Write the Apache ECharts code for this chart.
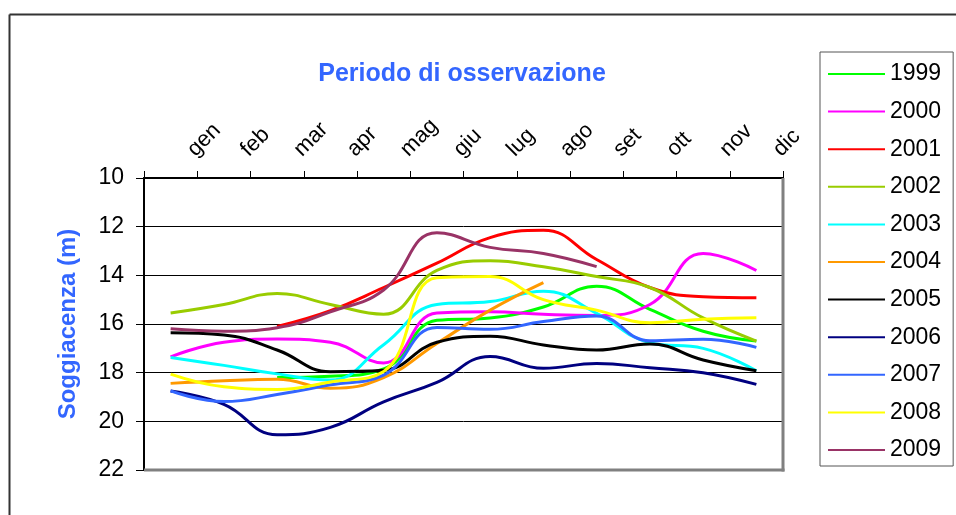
<!DOCTYPE html>
<html>
<head>
<meta charset="utf-8">
<script src="https://cdn.jsdelivr.net/npm/echarts@6/dist/echarts.min.js"></script>
<style>
  html, body { margin: 0; padding: 0; background: #ffffff; }
  #chart { width: 956px; height: 515px; }
</style>
</head>
<body>
<div id="chart"></div>
<script>
// Monthly groundwater depth (m below ground) by year
const months = ['gen', 'feb', 'mar', 'apr', 'mag', 'giu', 'lug', 'ago', 'set', 'ott', 'nov', 'dic'];
const yTicks = { min: 10, max: 22, step: 2 };

const y1999 = [null, null, 18.2, 18.15, 17.85, 15.85, 15.75, 15.3, 14.45, 15.4, 16.3, 16.7];
const y2000 = [17.35, 16.75, 16.62, 16.75, 17.6, 15.55, 15.5, 15.6, 15.65, 15.2, 13.1, 13.8];
const y2001 = [null, null, 16.1, 15.45, 14.5, 13.5, 12.45, 12.15, 13.35, 14.5, 14.88, 14.92];
const y2002 = [15.55, 15.2, 14.75, 15.2, 15.6, 13.8, 13.4, 13.65, 14.05, 14.5, 15.75, 16.7];
const y2003 = [17.38, 17.7, 18.05, 18.3, 16.85, 15.2, 15.08, 14.65, 15.56, 16.77, 17.0, 17.92];
const y2004 = [18.44, 18.33, 18.27, 18.64, 18.2, 16.8, 15.43, 14.3, null, null, null, null];
const y2005 = [16.36, 16.45, 17.07, 17.96, 17.9, 16.75, 16.5, 16.86, 17.07, 16.82, 17.48, 17.92];
const y2006 = [18.75, 19.3, 20.55, 20.25, 19.2, 18.4, 17.34, 17.82, 17.62, 17.8, 18.0, 18.48];
const y2007 = [18.75, 19.19, 18.9, 18.5, 18.1, 16.14, 16.22, 15.9, 15.67, 16.69, 16.63, 16.96];
const y2008 = [18.06, 18.58, 18.69, 18.38, 17.95, 14.1, 14.05, 15.0, 15.43, 15.95, 15.8, 15.74];
const y2009 = [16.2, 16.3, 16.15, 15.5, 14.6, 12.25, 12.85, 13.1, 13.64, null, null, null];

const years = ['1999', '2000', '2001', '2002', '2003', '2004', '2005', '2006', '2007', '2008', '2009'];
const values = [y1999, y2000, y2001, y2002, y2003, y2004, y2005, y2006, y2007, y2008, y2009];
const colors = ['#00FF00', '#FF00FF', '#FF0000', '#99CC00', '#00FFFF', '#FF9900',
                '#000000', '#000080', '#3366FF', '#FFFF00', '#993366'];

// plot area rectangle
const G = { left: 144, top: 178, width: 639, height: 292 };
const W = 956, H = 515;

const chart = echarts.init(document.getElementById('chart'), null, { renderer: 'canvas' });

const series = years.map((name, i) => ({
  name: name,
  type: 'line',
  data: values[i],
  smooth: 0.45,
  symbol: 'none',
  connectNulls: false,
  lineStyle: { color: colors[i], width: 3 },
  itemStyle: { color: colors[i] },
  z: 3
}));

chart.setOption({
  animation: false,
  backgroundColor: '#ffffff',
  color: colors,
  title: {
    text: 'Periodo di osservazione',
    left: 462,
    top: 62,
    padding: 0,
    textAlign: 'center',
    textStyle: { fontFamily: 'Liberation Sans, Arial, sans-serif', fontSize: 25, fontWeight: 'bold', color: '#3366FF' }
  },
  legend: {
    orient: 'vertical',
    left: 820,
    top: 52,
    padding: [10, 12, 4, 8],
    icon: 'rect',
    itemWidth: 57,
    itemHeight: 2,
    itemGap: 13.6,
    borderColor: '#555555',
    borderWidth: 1,
    textStyle: { fontFamily: 'Liberation Sans, Arial, sans-serif', fontSize: 23, color: '#000', lineHeight: 24 },
    data: years
  },
  grid: {
    left: G.left, top: G.top, width: G.width, height: G.height,
    show: false
  },
  xAxis: {
    type: 'category',
    position: 'top',
    data: months,
    boundaryGap: true,
    axisLine: { lineStyle: { color: '#000', width: 2 } },
    axisTick: { show: true, length: 7, inside: false, lineStyle: { color: '#000', width: 1 } },
    axisLabel: {
      rotate: -45,
      align: 'left',
      verticalAlign: 'bottom',
      padding: [0, 0, 0, 40],
      margin: -11,
      interval: 0,
      fontFamily: 'Liberation Sans, Arial, sans-serif',
      fontSize: 22,
      color: '#000'
    },
    splitLine: { show: false }
  },
  yAxis: {
    type: 'value',
    inverse: true,
    min: yTicks.min,
    max: yTicks.max,
    interval: yTicks.step,
    name: 'Soggiacenza (m)',
    nameLocation: 'middle',
    nameRotate: 90,
    nameGap: 64,
    nameTextStyle: { fontFamily: 'Liberation Sans, Arial, sans-serif', fontSize: 24, fontWeight: 'bold', color: '#3366FF' },
    axisLine: { show: true, lineStyle: { color: '#000', width: 2 } },
    axisTick: { show: true, length: 8, inside: false, lineStyle: { color: '#000', width: 1 } },
    axisLabel: {
      margin: 20,
      fontFamily: 'Liberation Sans, Arial, sans-serif',
      fontSize: 23,
      color: '#000'
    },
    splitLine: { show: true, lineStyle: { color: '#000', width: 1 } }
  },
  graphic: [
    // outer chart frame (top and left edges)
    { type: 'line', shape: { x1: 9.5, y1: 14.5, x2: W, y2: 14.5 }, style: { stroke: '#333', lineWidth: 2 }, z: 10 },
    { type: 'line', shape: { x1: 9.5, y1: 14.5, x2: 9.5, y2: H }, style: { stroke: '#333', lineWidth: 2 }, z: 10 },
    // plot-area border, right and bottom
    { type: 'line', shape: { x1: G.left + G.width, y1: G.top, x2: G.left + G.width, y2: G.top + G.height + 1.5 }, style: { stroke: '#808080', lineWidth: 3 }, z: 10 },
    { type: 'line', shape: { x1: G.left, y1: G.top + G.height, x2: G.left + G.width + 1.5, y2: G.top + G.height }, style: { stroke: '#808080', lineWidth: 3 }, z: 10 }
  ],
  series: series
});
</script>
</body>
</html>
